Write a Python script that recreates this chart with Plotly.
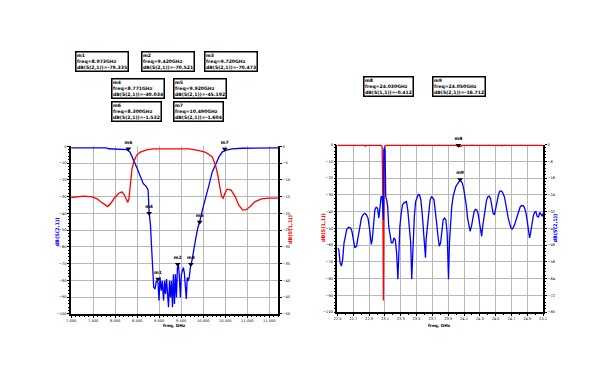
import plotly.graph_objects as go

# ---------------- Left chart data ----------------
left_s21_freq = [7.0, 7.8, 7.85, 8.2, 8.263, 8.338, 8.413, 8.487, 8.562, 8.637, 8.711, 8.749, 8.771, 8.801,
                 8.824, 8.846, 8.876, 8.906, 8.936, 8.973, 8.996, 9.018, 9.048, 9.070, 9.100, 9.123, 9.145,
                 9.167, 9.190, 9.212, 9.235, 9.257, 9.280, 9.302, 9.324, 9.347, 9.369, 9.392, 9.414, 9.436,
                 9.459, 9.481, 9.504, 9.526, 9.549, 9.571, 9.594, 9.616, 9.638, 9.661, 9.683, 9.713, 9.743,
                 9.788, 9.833, 9.877, 9.922, 9.982, 10.057, 10.131, 10.206, 10.281, 10.356, 10.430, 10.505,
                 10.655, 10.879, 11.70]
left_s21_db = [-1.0, -1.0, -1.5, -1.6, -1.95, -3.5, -7.5, -12.4, -17.3, -22.2, -24.2, -26.2, -39.0, -46.8,
               -58.7, -70.5, -84.2, -85.2, -80.3, -81.3, -92.1, -78.3, -86.2, -80.3, -92.1, -80.3, -88.2,
               -79.3, -92.1, -96.1, -80.3, -90.2, -80.3, -96.1, -76.4, -94.1, -76.4, -90.2, -72.4, -70.5,
               -78.3, -90.2, -76.4, -74.4, -72.4, -75.4, -84.2, -91.1, -78.3, -80.3, -78.3, -71.4, -68.5,
               -60.6, -54.7, -48.8, -44.9, -38.0, -31.1, -23.2, -15.3, -10.4, -6.5, -3.5, -2.5,
               -1.6, -1.2, -1.0]

left_s11_freq = [7.0, 7.142, 7.291, 7.478, 7.590, 7.665, 7.740, 7.830, 7.904, 7.979, 8.076, 8.151, 8.203,
                 8.248, 8.286, 8.315, 8.345, 8.383, 8.427, 8.487, 8.562, 8.711, 8.861, 9.160, 9.683, 9.907,
                 10.057, 10.206, 10.281, 10.333, 10.378, 10.416, 10.453, 10.490, 10.543, 10.632, 10.729,
                 10.804, 10.894, 10.969, 11.066, 11.178, 11.327, 11.477, 11.70]
left_s11_db = [-15.3, -15.1, -14.9, -15.1, -15.7, -16.5, -17.3, -18.0, -17.0, -15.5, -14.1, -13.6, -14.4,
               -16.0, -16.8, -15.5, -10.6, -6.7, -4.5, -2.7, -1.8, -1.1, -0.8, -0.8, -0.8, -1.3,
               -1.8, -3.2, -5.7, -8.7, -12.6, -15.0, -15.5, -14.1, -12.8, -13.1, -15.1,
               -17.5, -19.0, -19.0, -18.0, -16.5, -15.7, -15.5, -15.5]

left_marker_names = ["m1", "m2", "m3", "m4", "m5", "m6", "m7"]
left_marker_freq = [8.973, 9.420, 9.720, 8.771, 9.920, 8.300, 10.490]
left_marker_db = [-79.3, -70.5, -70.5, -40.0, -45.2, -1.5, -1.6]
left_marker_freq_txt = ["8.973GHz", "9.420GHz", "9.720GHz", "8.771GHz", "9.920GHz", "8.300GHz", "10.490GHz"]
left_marker_db_txt = ["-79.335", "-70.521", "-70.473", "-40.034", "-45.192", "-1.532", "-1.604"]

# ---------------- Right chart data ----------------
right_s21_freq = [22.500, 22.517, 22.533, 22.550, 22.566, 22.583, 22.600, 22.616, 22.641, 22.666, 22.683,
                  22.699, 22.720, 22.741, 22.762, 22.782, 22.803, 22.824, 22.845, 22.865, 22.886, 22.907,
                  22.928, 22.940, 22.957, 22.973, 22.990, 23.007, 23.023, 23.040, 23.052, 23.065, 23.073,
                  23.081, 23.086, 23.094, 23.102, 23.110, 23.123, 23.135, 23.148, 23.164, 23.181, 23.198,
                  23.214, 23.231, 23.248, 23.264, 23.272, 23.289, 23.306, 23.322, 23.347, 23.372, 23.389,
                  23.405, 23.426, 23.439, 23.455, 23.472, 23.488, 23.505, 23.522, 23.538, 23.555, 23.571,
                  23.588, 23.605, 23.613, 23.621, 23.638, 23.655, 23.671, 23.688, 23.704, 23.721, 23.738,
                  23.754, 23.771, 23.787, 23.804, 23.821, 23.837, 23.854, 23.870, 23.887, 23.904, 23.916,
                  23.929, 23.945, 23.962, 23.978, 23.995, 24.020, 24.045, 24.061, 24.078, 24.095, 24.111,
                  24.128, 24.145, 24.161, 24.178, 24.194, 24.211, 24.228, 24.244, 24.261, 24.277, 24.294,
                  24.311, 24.323, 24.336, 24.352, 24.369, 24.385, 24.402, 24.419, 24.435, 24.452, 24.468,
                  24.485, 24.502, 24.518, 24.535, 24.551, 24.576, 24.593, 24.610, 24.626, 24.643, 24.659,
                  24.676, 24.693, 24.709, 24.726, 24.743, 24.759, 24.776, 24.792, 24.809, 24.826, 24.851,
                  24.867, 24.884, 24.900, 24.917, 24.929, 24.942, 24.958, 24.975, 24.992, 25.008, 25.025,
                  25.042, 25.058, 25.075, 25.091, 25.100]
right_s21_db = [-49.3, -50.1, -56.4, -58.0, -54.8, -46.9, -43.8, -40.6, -39.5, -39.8, -41.4,
                -45.4, -49.3, -48.5, -43.8, -39.1, -35.1, -33.5, -32.8, -33.5, -35.1, -40.6,
                -47.7, -45.4, -35.9, -31.2, -29.9, -30.4, -35.1, -30.4, -24.9, -24.9, -29.6,
                -35.9, -2.8, -1.3, -2.8, -24.9, -26.5, -29.6, -39.1, -43.8, -46.9, -46.9,
                -44.6, -45.4, -51.7, -64.3, -53.2, -39.1, -32.8, -28.8, -27.7, -27.2, -31.2,
                -39.1, -46.9, -64.3, -45.4, -34.3, -27.2, -24.9, -23.8, -24.1, -26.5, -32.8,
                -40.6, -48.5, -54.0, -45.4, -37.5, -29.6, -26.5, -24.9, -25.4, -26.5, -31.2,
                -37.5, -43.8, -48.5, -46.9, -40.6, -35.9, -35.1, -35.9, -42.2, -64.3, -46.9,
                -35.9, -29.6, -24.9, -21.7, -20.2, -18.6, -17.3, -17.3, -18.3, -20.9, -24.1,
                -28.8, -35.1, -39.1, -41.4, -39.1, -35.1, -32.0, -30.9, -31.2, -32.8, -36.7,
                -39.8, -43.8, -39.1, -34.3, -29.6, -26.5, -24.9, -24.6, -25.7, -28.8, -32.8,
                -33.5, -29.9, -26.8, -24.1, -22.2, -22.2, -23.3, -24.9, -28.0, -32.0, -35.1,
                -37.5, -39.8, -40.3, -39.4, -37.8, -35.9, -34.0, -32.0, -29.9, -29.1, -29.3,
                -30.4, -32.8, -36.7, -40.6, -44.6, -42.2, -37.5, -34.3, -32.4, -32.0, -34.3,
                -34.6, -32.4, -33.5, -34.3, -32.8]

right_s11_freq = [22.500, 22.845, 22.853, 22.861, 23.052, 23.065, 23.073, 23.081, 23.090, 23.098, 23.115,
                  24.006, 24.015, 24.065, 24.074, 24.578, 24.582, 24.586, 25.100]
right_s11_db = [-0.4, -0.4, -1.0, -0.4, -0.4, -1.6, -31.1, -93.1, -11.4, -1.2, -0.4,
                -0.4, -1.0, -1.0, -0.4, -0.4, -1.0, -0.4, -0.4]

right_marker_names = ["m8", "m9"]
right_marker_freq = [24.030, 24.050]
right_marker_db = [-0.4, -16.7]
right_marker_freq_txt = ["24.030GHz", "24.050GHz"]
right_marker_db_txt = ["-0.412", "-16.712"]
right_marker_param = ["dB(S(1,1))", "dB(S(2,1))"]

BLUE = "#0000ff"
RED = "#ff0000"
W, H = 613, 382
OFF = 8  # page body margin


def px_x(x):
    return (x - OFF) / W


def px_y(y):
    return 1 - (y - OFF) / H


fig = go.Figure()

fig.add_trace(go.Scatter(x=left_s21_freq, y=left_s21_db, mode="lines", line=dict(color=BLUE, width=1.3),
                         xaxis="x", yaxis="y", showlegend=False))
fig.add_trace(go.Scatter(x=left_s11_freq, y=left_s11_db, mode="lines", line=dict(color=RED, width=1.3),
                         xaxis="x", yaxis="y2", showlegend=False))
fig.add_trace(go.Scatter(x=right_s11_freq, y=right_s11_db, mode="lines", line=dict(color=RED, width=1.3),
                         xaxis="x2", yaxis="y3", showlegend=False))
fig.add_trace(go.Scatter(x=right_s21_freq, y=right_s21_db, mode="lines", line=dict(color=BLUE, width=1.3),
                         xaxis="x2", yaxis="y4", showlegend=False))

mk_font = dict(family="DejaVu Sans", size=4.5, color="black")
fig.add_trace(go.Scatter(x=left_marker_freq, y=left_marker_db, mode="markers+text",
                         text=["<b>%s</b>" % n for n in left_marker_names], textposition="top center",
                         textfont=mk_font, cliponaxis=False,
                         marker=dict(symbol="triangle-down", size=5, color="black"),
                         xaxis="x", yaxis="y", showlegend=False))
fig.add_trace(go.Scatter(x=right_marker_freq[:1], y=right_marker_db[:1], mode="markers+text",
                         text=["<b>%s</b>" % right_marker_names[0]], textposition="top center",
                         textfont=mk_font, cliponaxis=False,
                         marker=dict(symbol="triangle-down", size=5, color="black"),
                         xaxis="x2", yaxis="y3", showlegend=False))
fig.add_trace(go.Scatter(x=right_marker_freq[1:], y=right_marker_db[1:], mode="markers+text",
                         text=["<b>%s</b>" % right_marker_names[1]], textposition="top center",
                         textfont=mk_font, cliponaxis=False,
                         marker=dict(symbol="triangle-down", size=5, color="black"),
                         xaxis="x2", yaxis="y4", showlegend=False))

tick_font = dict(family="DejaVu Sans", size=3.6, color="black")
grid = "#b8b8b8"

# domains (pixel derived)
L_dom_x = [px_x(67), px_x(277)]
L_dom_y = [px_y(315), px_y(145.7)]
R_dom_x = [px_x(337.3), px_x(546)]
R_dom_y = [px_y(313.3), px_y(144)]

common_axis = dict(showline=True, linecolor="black", linewidth=1.5, showgrid=True, gridcolor=grid,
                   gridwidth=1, zeroline=False, tickfont=tick_font, ticks="outside", ticklen=2,
                   tickcolor="black", tickwidth=1)

fig.update_layout(
    width=W, height=H, autosize=False, margin=dict(l=0, r=0, t=0, b=0),
    paper_bgcolor="white", plot_bgcolor="white", showlegend=False,
    xaxis=dict(domain=L_dom_x, range=[7.0, 11.7], tick0=7.0, dtick=0.5, tickformat=".3f", anchor="y",
               minor=dict(dtick=0.1, ticks="outside", ticklen=1.5, tickcolor="black", showgrid=False),
               **common_axis),
    yaxis=dict(domain=L_dom_y, range=[-100, 0], dtick=10, anchor="x", side="left",
               minor=dict(dtick=2, ticks="outside", ticklen=1.5, tickcolor="black", showgrid=False),
               **common_axis),
    yaxis2=dict(overlaying="y", range=[-50, 0], dtick=5, anchor="x", side="right",
                showline=True, linecolor="black", linewidth=1.5, showgrid=False, zeroline=False,
                tickfont=tick_font, ticks="outside", ticklen=2, tickcolor="black"),
    xaxis2=dict(domain=R_dom_x, range=[22.5, 25.1], tick0=22.5, dtick=0.2, tickformat=".1f", anchor="y3",
                minor=dict(dtick=0.1, ticks="outside", ticklen=1.5, tickcolor="black", showgrid=False),
                **common_axis),
    yaxis3=dict(domain=R_dom_y, range=[-100, 0], dtick=10, anchor="x2", side="left",
                minor=dict(dtick=2, ticks="outside", ticklen=1.5, tickcolor="black", showgrid=False),
                **common_axis),
    yaxis4=dict(overlaying="y3", range=[-80, 0], dtick=8, anchor="x2", side="right",
                showline=True, linecolor="black", linewidth=1.5, showgrid=False, zeroline=False,
                tickfont=tick_font, ticks="outside", ticklen=2, tickcolor="black",
                minor=dict(dtick=1.6, ticks="outside", ticklen=1.5, tickcolor="black", showgrid=False)),
)

annots = []
lab_font = dict(family="DejaVu Sans", size=5)


def centered(x, y, text, font, angle=0):
    return dict(x=px_x(x), y=px_y(y), xref="paper", yref="paper", xanchor="center", yanchor="middle",
                text=text, textangle=angle, showarrow=False, font=font)


# axis titles
annots.append(centered(172, 326.5, "<b>freq, GHz</b>", dict(family="DejaVu Sans", size=4.2, color="black")))
annots.append(centered(441, 326.5, "<b>freq, GHz</b>", dict(family="DejaVu Sans", size=4.2, color="black")))
annots.append(centered(52.5, 232, "<b>dB(S(2,1))</b>", dict(lab_font, color=BLUE), -90))
annots.append(centered(288.5, 230, "<b>dB(S(1,1))</b>", dict(lab_font, color=RED), -90))
annots.append(centered(322, 228, "<b>dB(S(1,1))</b>", dict(lab_font, color=RED), -90))
annots.append(centered(558, 228, "<b>dB(S(2,1))</b>", dict(lab_font, color=BLUE), -90))

# marker readout boxes
left_box_pos = [(71, 49), (138, 49), (202, 49), (107, 76.5), (170, 76.5), (107, 100), (170, 100)]
for i, (bx, by) in enumerate(left_box_pos):
    txt = "<b>%s<br>freq=%s<br>dB(S(2,1))=%s</b>" % (left_marker_names[i], left_marker_freq_txt[i],
                                                     left_marker_db_txt[i])
    annots.append(dict(x=px_x(bx), y=px_y(by), xref="paper", yref="paper", xanchor="left", yanchor="top",
                       text=txt, showarrow=False, align="left", bgcolor="white", bordercolor="black",
                       borderwidth=1.5, borderpad=0.5,
                       font=dict(family="DejaVu Sans", size=4.6, color="black")))
right_box_pos = [(363, 75), (433, 75)]
for i, (bx, by) in enumerate(right_box_pos):
    txt = "<b>%s<br>freq=%s<br>%s=%s</b>" % (right_marker_names[i], right_marker_freq_txt[i],
                                             right_marker_param[i], right_marker_db_txt[i])
    annots.append(dict(x=px_x(bx), y=px_y(by), xref="paper", yref="paper", xanchor="left", yanchor="top",
                       text=txt, showarrow=False, align="left", bgcolor="white", bordercolor="black",
                       borderwidth=1.5, borderpad=0.5,
                       font=dict(family="DejaVu Sans", size=4.6, color="black")))

fig.update_layout(annotations=annots)
fig.write_html("out.html")
